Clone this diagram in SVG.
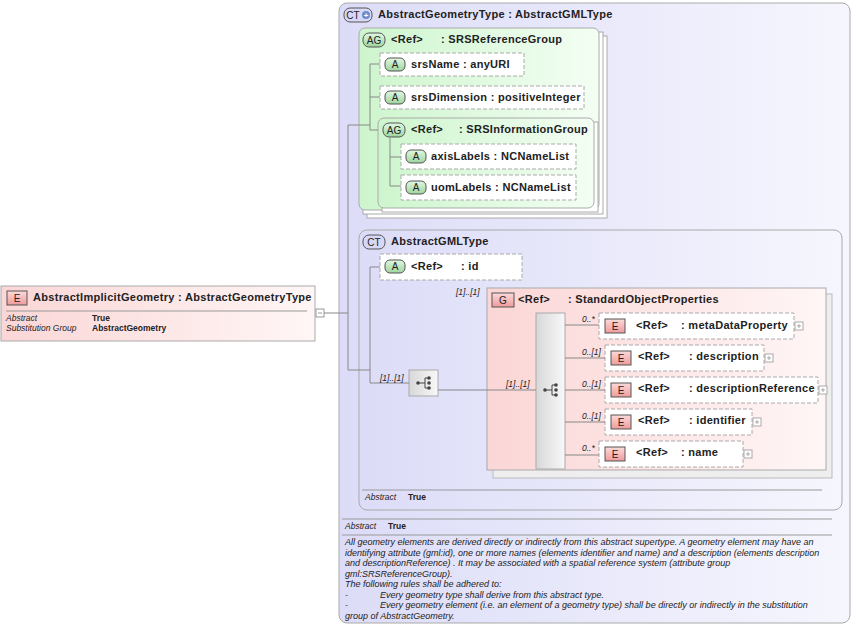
<svg xmlns="http://www.w3.org/2000/svg" width="854" height="628" viewBox="0 0 854 628">
<defs>
<linearGradient id="gCT" x1="0" y1="0" x2="1" y2="0"><stop offset="0" stop-color="#dcdcf8"/><stop offset="1" stop-color="#f6f6fe"/></linearGradient>
<linearGradient id="gAG" x1="0" y1="0" x2="1" y2="0"><stop offset="0" stop-color="#cdf5cd"/><stop offset="1" stop-color="#f4fef4"/></linearGradient>
<linearGradient id="gE" x1="0" y1="0" x2="1" y2="0"><stop offset="0" stop-color="#fbd6d6"/><stop offset="1" stop-color="#fff6f6"/></linearGradient>
<linearGradient id="gSeq" x1="0" y1="0" x2="1" y2="0"><stop offset="0" stop-color="#d8d8d8"/><stop offset="1" stop-color="#f8f8f8"/></linearGradient>
<linearGradient id="gBE" x1="0" y1="0" x2="0" y2="1"><stop offset="0" stop-color="#fcdada"/><stop offset="1" stop-color="#f09a9a"/></linearGradient>
<linearGradient id="gBA" x1="0" y1="0" x2="0" y2="1"><stop offset="0" stop-color="#e2f8e2"/><stop offset="1" stop-color="#9fd49f"/></linearGradient>
<g id="seqIcon"><line x1="-7" y1="0" x2="0" y2="0" stroke="#444"/><circle cx="-7" cy="0" r="1.8" fill="#444"/><line x1="0" y1="-5" x2="0" y2="5" stroke="#444"/><line x1="0" y1="-5" x2="4" y2="-5" stroke="#444"/><line x1="0" y1="5" x2="4" y2="5" stroke="#444"/><circle cx="4" cy="-5" r="1.8" fill="#444"/><circle cx="4" cy="0" r="1.8" fill="#444"/><circle cx="4" cy="5" r="1.8" fill="#444"/></g>
</defs>
<style>
text{font-family:"Liberation Sans",Arial,sans-serif;fill:#222}
.t{font-size:11px;font-weight:bold;letter-spacing:0.3px}
.s{font-size:8.5px}
.sb{font-size:8.5px;font-weight:bold}
.i{font-size:8.5px;font-style:italic}
.d{font-size:9px;font-style:italic}
.c{font-size:8.5px;font-style:italic}
.dash{fill:#fff;stroke:#aaa;stroke-dasharray:4,2}
.ln{stroke:#888;fill:none}
.bdg{font-size:10px;text-anchor:middle}
</style>
<rect width="854" height="628" fill="#fff"/>

<g id="ct-geom">
<rect x="339" y="3" width="511" height="620" rx="8" fill="url(#gCT)" stroke="#aaa"/>
<rect x="344" y="8" width="28" height="14" rx="6" fill="#d8d8f6" stroke="#555"/>
<text x="353" y="19" class="bdg">CT</text><circle cx="366" cy="15" r="4" fill="#6a8ccf"/><text x="366" y="18" style="font-size:8px;fill:#fff;text-anchor:middle;font-weight:bold">+</text>
<text x="378" y="18" class="t">AbstractGeometryType : AbstractGMLType</text>
<line x1="342" y1="519" x2="832" y2="519" stroke="#999"/>
<text x="345" y="529" class="i">Abstract</text><text x="388" y="529" class="sb">True</text>
<line x1="342" y1="535" x2="832" y2="535" stroke="#999"/>
<text class="d"><tspan x="345" y="545">All geometry elements are derived directly or indirectly from this abstract supertype. A geometry element may have an</tspan><tspan x="345" y="555.5">identifying attribute (gml:id), one or more names (elements identifier and name) and a description (elements description</tspan><tspan x="345" y="566">and descriptionReference) . It may be associated with a spatial reference system (attribute group</tspan><tspan x="345" y="576.5">gml:SRSReferenceGroup).</tspan><tspan x="345" y="587">The following rules shall be adhered to:</tspan><tspan x="345" y="597.5">-</tspan><tspan x="380" y="597.5">Every geometry type shall derive from this abstract type.</tspan><tspan x="345" y="608">-</tspan><tspan x="380" y="608">Every geometry element (i.e. an element of a geometry type) shall be directly or indirectly in the substitution</tspan><tspan x="345" y="618.5">group of AbstractGeometry.</tspan></text>
</g>

<g id="el-main">
<rect x="1" y="286" width="314" height="55" fill="url(#gE)" stroke="#aaa"/>
<rect x="7" y="291" width="20" height="14" fill="url(#gBE)" stroke="#555"/><text x="17" y="302" class="bdg">E</text>
<text x="33" y="301" class="t">AbstractImplicitGeometry : AbstractGeometryType</text>
<line x1="6" y1="311" x2="307" y2="311" stroke="#999"/>
<text x="6" y="321" class="i">Abstract</text><text x="92" y="321" class="sb">True</text>
<text x="6" y="331" class="i">Substitution Group</text><text x="92" y="331" class="sb">AbstractGeometry</text>
<rect x="316" y="309" width="8" height="8" fill="#fff" stroke="#999"/><line x1="318" y1="313" x2="322" y2="313" stroke="#999"/>
</g>

<g id="ag-srsref">
<rect x="367" y="36" width="240" height="182" fill="#fff" stroke="#aaa"/>
<rect x="363" y="32" width="240" height="182" fill="#fff" stroke="#aaa"/>
<rect x="359" y="28" width="240" height="182" rx="6" fill="url(#gAG)" stroke="#aaa"/>
<rect x="363" y="33" width="22" height="14" rx="6" fill="url(#gBA)" stroke="#555"/><text x="374" y="44" class="bdg">AG</text>
<text x="391" y="43" class="t">&lt;Ref&gt;</text><text x="441" y="43" class="t">: SRSReferenceGroup</text>
</g>
<g id="a-srsName"><rect x="380" y="53" width="144" height="23" class="dash"/><rect x="385" y="58" width="20" height="13" rx="5" fill="url(#gBA)" stroke="#555"/><text x="395" y="68" class="bdg">A</text><text x="411" y="68" class="t">srsName : anyURI</text></g>
<g id="a-srsDim"><rect x="380" y="86" width="204" height="23" class="dash"/><rect x="385" y="91" width="20" height="13" rx="5" fill="url(#gBA)" stroke="#555"/><text x="395" y="101" class="bdg">A</text><text x="411" y="101" class="t">srsDimension : positiveInteger</text></g>
<g id="ag-srsinfo">
<rect x="382" y="122" width="216" height="90" fill="#fff" stroke="#aaa"/>
<rect x="378" y="118" width="216" height="90" rx="6" fill="url(#gAG)" stroke="#aaa"/>
<rect x="383" y="123" width="22" height="14" rx="6" fill="url(#gBA)" stroke="#555"/><text x="394" y="134" class="bdg">AG</text>
<text x="411" y="133" class="t">&lt;Ref&gt;</text><text x="459" y="133" class="t">: SRSInformationGroup</text>
</g>
<g id="a-axis"><rect x="401" y="144" width="175" height="25" class="dash"/><rect x="406" y="150" width="20" height="13" rx="5" fill="url(#gBA)" stroke="#555"/><text x="416" y="160" class="bdg">A</text><text x="431" y="160" class="t">axisLabels : NCNameList</text></g>
<g id="a-uom"><rect x="401" y="175" width="175" height="25" class="dash"/><rect x="406" y="181" width="20" height="13" rx="5" fill="url(#gBA)" stroke="#555"/><text x="416" y="191" class="bdg">A</text><text x="431" y="191" class="t">uomLabels : NCNameList</text></g>

<g id="ct-gml">
<rect x="359" y="230" width="483" height="280" rx="8" fill="url(#gCT)" stroke="#aaa"/>
<rect x="363" y="235" width="22" height="14" rx="6" fill="#d8d8f6" stroke="#555"/><text x="374" y="246" class="bdg">CT</text>
<text x="391" y="245" class="t">AbstractGMLType</text>
<line x1="362" y1="490" x2="822" y2="490" stroke="#999"/>
<text x="365" y="500" class="i">Abstract</text><text x="408" y="500" class="sb">True</text>
</g>
<g id="a-id"><rect x="380" y="254" width="142" height="26" class="dash"/><rect x="385" y="260" width="20" height="13" rx="5" fill="url(#gBA)" stroke="#555"/><text x="395" y="270" class="bdg">A</text><text x="411" y="270" class="t">&lt;Ref&gt;</text><text x="461" y="270" class="t">: id</text></g>

<g id="seq1"><rect x="409" y="370" width="29" height="26" fill="url(#gSeq)" stroke="#aaa"/><use href="#seqIcon" x="425" y="383"/></g>

<g id="g-sop">
<rect x="493" y="294" width="339" height="184" fill="#eee" stroke="#bbb"/>
<rect x="487" y="288" width="339" height="182" fill="url(#gE)" stroke="#aaa"/>
<rect x="492" y="293" width="22" height="14" fill="url(#gBE)" stroke="#555"/><text x="503" y="304" class="bdg">G</text>
<text x="518" y="303" class="t">&lt;Ref&gt;</text><text x="568" y="303" class="t">: StandardObjectProperties</text>
</g>
<g id="seq2"><rect x="536" y="313" width="29" height="156" fill="url(#gSeq)" stroke="#aaa"/><use href="#seqIcon" x="552" y="390"/></g>

<g id="e-meta"><rect x="599" y="313" width="195" height="26" class="dash"/><rect x="605" y="319" width="20" height="14" fill="url(#gBE)" stroke="#555"/><text x="615" y="330" class="bdg">E</text><text x="636" y="329" class="t">&lt;Ref&gt;</text><text x="681" y="329" class="t">: metaDataProperty</text><rect x="795" y="322" width="8" height="8" fill="#fff" stroke="#aaa"/><path d="M797 326h4M799 324v4" stroke="#aaa"/></g>
<g id="e-desc"><rect x="605" y="345" width="159" height="26" class="dash"/><rect x="611" y="351" width="20" height="14" fill="url(#gBE)" stroke="#555"/><text x="621" y="362" class="bdg">E</text><text x="638" y="360" class="t">&lt;Ref&gt;</text><text x="689" y="360" class="t">: description</text><rect x="765" y="354" width="8" height="8" fill="#fff" stroke="#aaa"/><path d="M767 358h4M769 356v4" stroke="#aaa"/></g>
<g id="e-descref"><rect x="605" y="377" width="213" height="26" class="dash"/><rect x="611" y="383" width="20" height="14" fill="url(#gBE)" stroke="#555"/><text x="621" y="394" class="bdg">E</text><text x="638" y="392" class="t">&lt;Ref&gt;</text><text x="689" y="392" class="t">: descriptionReference</text><rect x="819" y="386" width="8" height="8" fill="#fff" stroke="#aaa"/><path d="M821 390h4M823 388v4" stroke="#aaa"/></g>
<g id="e-ident"><rect x="605" y="409" width="147" height="26" class="dash"/><rect x="611" y="415" width="20" height="14" fill="url(#gBE)" stroke="#555"/><text x="621" y="426" class="bdg">E</text><text x="638" y="424" class="t">&lt;Ref&gt;</text><text x="689" y="424" class="t">: identifier</text><rect x="753" y="418" width="8" height="8" fill="#fff" stroke="#aaa"/><path d="M755 422h4M757 420v4" stroke="#aaa"/></g>
<g id="e-name"><rect x="599" y="441" width="144" height="26" class="dash"/><rect x="605" y="447" width="20" height="14" fill="url(#gBE)" stroke="#555"/><text x="615" y="458" class="bdg">E</text><text x="636" y="456" class="t">&lt;Ref&gt;</text><text x="681" y="456" class="t">: name</text><rect x="744" y="450" width="8" height="8" fill="#fff" stroke="#aaa"/><path d="M746 454h4M748 452v4" stroke="#aaa"/></g>

<g id="connectors">
<path class="ln" d="M324 313H348M348 125V370H370"/>
<path class="ln" d="M348 125H370M370 64V130M370 64H380M370 97H380M370 130H378"/>
<path class="ln" d="M390 138V186M390 157H401M390 186H401"/>
<path class="ln" d="M370 267H380M370 267V383H409"/>
<path class="ln" d="M438 390H536"/>
<path class="ln" d="M565 325H599M565 358H605M565 390H605M565 422H605M565 455H599"/>
<text x="456" y="295" class="c">[1]..[1]</text>
<text x="380" y="381" class="c">[1]..[1]</text>
<text x="506" y="387" class="c">[1]..[1]</text>
<text x="582" y="322" class="c">0..*</text>
<text x="582" y="355" class="c">0..[1]</text>
<text x="582" y="387" class="c">0..[1]</text>
<text x="582" y="419" class="c">0..[1]</text>
<text x="582" y="451" class="c">0..*</text>
</g>
</svg>
